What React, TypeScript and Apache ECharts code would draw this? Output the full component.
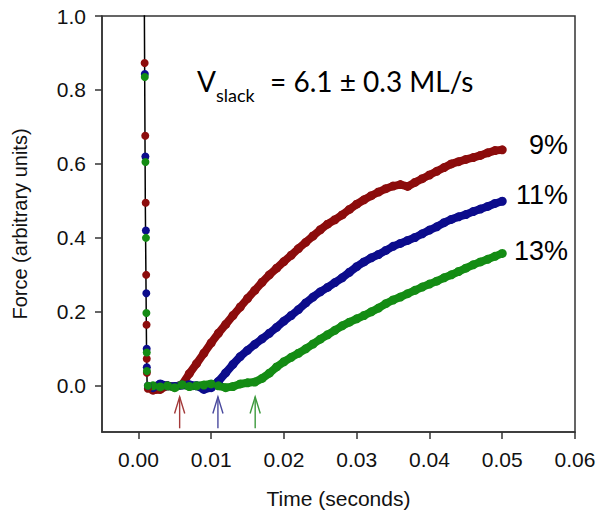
import React, { useEffect, useRef } from "react";
import * as echarts from "echarts";

// ---- data ----
const TIME = [
  0.002, 0.003, 0.004, 0.005, 0.006, 0.007, 0.008, 0.009, 0.01, 0.011,
  0.012, 0.013, 0.014, 0.015, 0.016, 0.017, 0.018, 0.019, 0.02, 0.021,
  0.022, 0.023, 0.024, 0.025, 0.026, 0.027, 0.028, 0.029, 0.03, 0.031,
  0.032, 0.033, 0.034, 0.035, 0.036, 0.037, 0.038, 0.039, 0.04, 0.041,
  0.042, 0.043, 0.044, 0.045, 0.046, 0.047, 0.048, 0.049, 0.05,
];
const RED_9 = [
  -0.012, -0.01, 0.0, -0.003, 0.003, 0.033, 0.06, 0.088, 0.116, 0.142,
  0.166, 0.19, 0.213, 0.236, 0.258, 0.28, 0.3, 0.318, 0.336, 0.353,
  0.371, 0.388, 0.405, 0.422, 0.437, 0.449, 0.462, 0.477, 0.491, 0.503,
  0.514, 0.524, 0.533, 0.54, 0.544, 0.539, 0.55, 0.56, 0.57, 0.58,
  0.59, 0.6, 0.606, 0.612, 0.617, 0.623, 0.63, 0.636, 0.638,
];
const BLUE_11 = [
  -0.005, 0.005, 0.0, -0.002, 0.002, 0.003, 0.0, -0.01, -0.005, 0.012,
  0.035, 0.058, 0.079, 0.096, 0.112, 0.127, 0.142, 0.158, 0.175, 0.19,
  0.206, 0.224, 0.24, 0.254, 0.266, 0.279, 0.292, 0.307, 0.322, 0.335,
  0.346, 0.355, 0.366, 0.377, 0.385, 0.393, 0.401, 0.411, 0.421, 0.43,
  0.441, 0.45, 0.457, 0.463, 0.471, 0.478, 0.485, 0.493, 0.499,
];
const GREEN_13 = [
  0.0, -0.003, 0.0, -0.005, 0.003, -0.002, 0.0, 0.002, 0.005, 0.0,
  -0.005, -0.002, 0.005, 0.008, 0.01, 0.02, 0.034, 0.051, 0.065, 0.077,
  0.088, 0.1, 0.113, 0.126, 0.138, 0.15, 0.162, 0.172, 0.181, 0.19,
  0.2, 0.21, 0.222, 0.232, 0.24, 0.249, 0.258, 0.267, 0.275, 0.283,
  0.292, 0.3, 0.309, 0.318, 0.327, 0.335, 0.342, 0.35, 0.358,
];
// points recorded during the fast force drop
const RED_DROP_T = [0.00086, 0.00094, 0.001, 0.00107, 0.00112, 0.00115, 0.00117, 0.0013];
const RED_DROP_F = [0.873, 0.676, 0.495, 0.3, 0.165, 0.073, 0.035, -0.008];
const BLUE_DROP_T = [0.00088, 0.00096, 0.00103, 0.00109, 0.00114, 0.00116, 0.0013];
const BLUE_DROP_F = [0.843, 0.62, 0.42, 0.25, 0.1, 0.05, 0.0];
const GREEN_DROP_T = [0.00088, 0.00097, 0.00104, 0.0011, 0.00115, 0.00117, 0.0013];
const GREEN_DROP_F = [0.835, 0.605, 0.4, 0.197, 0.09, 0.04, 0.0];
// black fitted drop line
const FIT_T = [0.0008, 0.00095, 0.00112, 0.0012];
const FIT_F = [1.1, 0.5, 0.1, 0.0];
// arrows marking onset of force redevelopment
const ARROW_T = [0.00567, 0.01093, 0.01605];
const ARROW_COLORS = ["#a33a3a", "#4a4a9e", "#3c9a3c"];

const X_TICKS = [0, 0.01, 0.02, 0.03, 0.04, 0.05, 0.06];
const Y_TICKS = [0, 0.2, 0.4, 0.6, 0.8, 1.0];
const LABELS = ["9%", "11%", "13%"];

const RED = "#8c0c0c";
const BLUE = "#0c0c8c";
const GREEN = "#148c14";

const zip = (xs: number[], ys: number[]) => xs.map((x, i) => [x, ys[i]]);

export default function App() {
  const ref = useRef<HTMLDivElement>(null);
  useEffect(() => {
    if (!ref.current) return;
    const chart = echarts.init(ref.current, undefined, { renderer: "svg" });
    const axisColor = "#333";
    const tickFont = { fontFamily: "Arial", fontSize: 21, color: "#111" };
    const lineSeries = (data: number[], color: string) => ({
      type: "line",
      data: zip(TIME, data),
      symbol: "circle",
      symbolSize: 9,
      showSymbol: true,
      itemStyle: { color },
      lineStyle: { color, width: 8 },
      z: 3,
    });
    const dropSeries = (t: number[], f: number[], color: string) => ({
      type: "scatter",
      data: zip(t, f),
      symbol: "circle",
      symbolSize: 8,
      itemStyle: { color, opacity: 1 },
      z: 4,
    });
    chart.setOption({
      animation: false,
      grid: {
        left: 102,
        top: 16,
        right: 26,
        bottom: 81,
        show: true,
        borderColor: axisColor,
        borderWidth: 1.5,
        backgroundColor: "transparent",
      },
      xAxis: {
        type: "value",
        min: -0.005,
        max: 0.06,
        name: "Time (seconds)",
        nameLocation: "middle",
        nameGap: 56,
        nameTextStyle: { ...tickFont, fontSize: 21 },
        axisLine: { show: true, onZero: false, lineStyle: { color: axisColor, width: 1.5 } },
        axisTick: { show: true, inside: false, length: 7, customValues: X_TICKS, lineStyle: { color: axisColor, width: 1.5 } },
        axisLabel: { ...tickFont, margin: 17, customValues: X_TICKS, formatter: (v: number) => v.toFixed(2) },
        splitLine: { show: false },
      },
      yAxis: {
        type: "value",
        min: -0.125,
        max: 1.0,
        name: "Force (arbitrary units)",
        nameLocation: "middle",
        nameGap: 72,
        nameTextStyle: { ...tickFont, fontSize: 20 },
        axisLine: { show: true, onZero: false, lineStyle: { color: axisColor, width: 1.5 } },
        axisTick: { show: true, inside: false, length: 7, customValues: Y_TICKS, lineStyle: { color: axisColor, width: 1.5 } },
        axisLabel: { ...tickFont, margin: 16, customValues: Y_TICKS, formatter: (v: number) => v.toFixed(1) },
        splitLine: { show: false },
      },
      series: [
        {
          type: "line",
          data: zip(FIT_T, FIT_F),
          symbol: "none",
          lineStyle: { color: "#000", width: 1.5 },
          z: 2,
        },
        lineSeries(RED_9, RED),
        lineSeries(BLUE_11, BLUE),
        lineSeries(GREEN_13, GREEN),
        dropSeries(RED_DROP_T, RED_DROP_F, RED),
        dropSeries(BLUE_DROP_T, BLUE_DROP_F, BLUE),
        dropSeries(GREEN_DROP_T, GREEN_DROP_F, GREEN),
        {
          type: "custom",
          data: ARROW_T.map((t, i) => [t, i]),
          renderItem: (params: any, api: any) => {
            const t = api.value(0);
            const i = api.value(1);
            const color = ARROW_COLORS[i];
            const tip = api.coord([t, -0.03]);
            const base = api.coord([t, -0.115]);
            const armL = api.coord([t - 0.0007, -0.075]);
            const armR = api.coord([t + 0.0007, -0.075]);
            const style = { stroke: color, lineWidth: 1.4, fill: "none" };
            return {
              type: "group",
              children: [
                { type: "line", shape: { x1: base[0], y1: base[1], x2: tip[0], y2: tip[1] }, style },
                { type: "polyline", shape: { points: [armL, tip, armR] }, style },
              ],
            };
          },
          z: 5,
        },
      ],
      graphic: [
        { type: "text", left: 197, top: 67, style: { text: "V", font: "28px Lato, sans-serif", fill: "#000" } },
        { type: "text", left: 216, top: 86, style: { text: "slack", font: "18px Lato, sans-serif", fill: "#000" } },
        { type: "text", left: 270, top: 67, style: { text: "= 6.1 ± 0.3 ML/s", font: "28px Lato, sans-serif", fill: "#000" } },
        { type: "text", right: 33, top: 131, style: { text: LABELS[0], font: "27px Arial", fill: "#000" } },
        { type: "text", right: 33, top: 181, style: { text: LABELS[1], font: "27px Arial", fill: "#000" } },
        { type: "text", right: 33, top: 237, style: { text: LABELS[2], font: "27px Arial", fill: "#000" } },
      ],
    });
    return () => chart.dispose();
  }, []);
  return <div ref={ref} style={{ width: 601, height: 514, position: "absolute", left: 0, top: 0 }} />;
}
